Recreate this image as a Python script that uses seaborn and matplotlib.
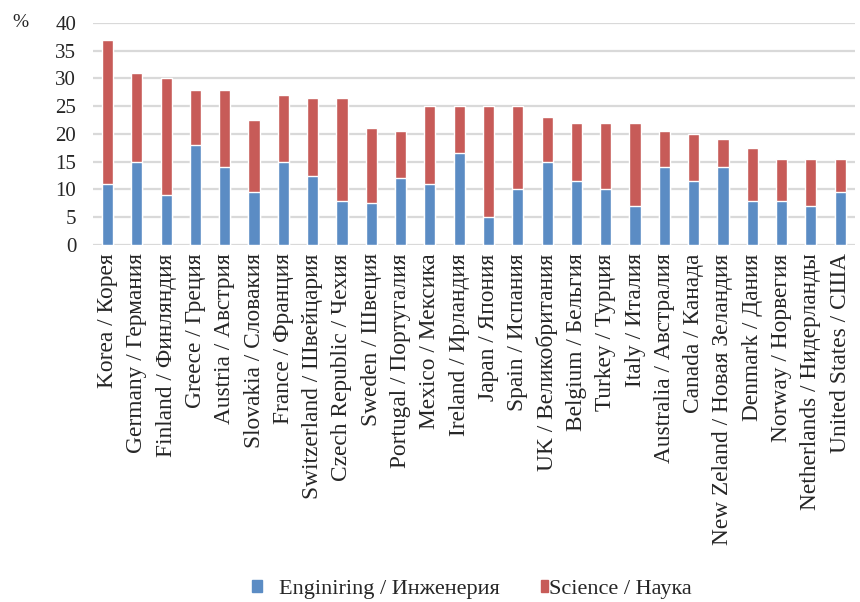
import pandas as pd
import matplotlib.pyplot as plt
import seaborn as sns
from matplotlib.patches import Patch

# Shares of graduates by field, %
countries = ['Korea / Корея', 'Germany / Германия', 'Finland / Финляндия', 'Greece / Греция',
             'Austria / Австрия', 'Slovakia / Словакия', 'France / Франция',
             'Switzerland / Швейцария', 'Czech Republic / Чехия', 'Sweden / Швеция',
             'Portugal / Португалия', 'Mexico / Мексика', 'Ireland / Ирландия', 'Japan / Япония',
             'Spain / Испания', 'UK / Великобритания', 'Belgium / Бельгия', 'Turkey / Турция',
             'Italy / Италия', 'Australia / Австралия', 'Canada / Канада',
             'New Zeland / Новая Зеландия', 'Denmark / Дания', 'Norway / Норвегия',
             'Netherlands / Нидерланды', 'United States / США']
engineering = [11, 15, 9, 18, 14, 9.5, 15, 12.5, 8, 7.5, 12, 11, 16.5, 5, 10, 15, 11.5, 10,
               7, 14, 11.5, 14, 8, 8, 7, 9.5]
science = [26, 16, 21, 10, 14, 13, 12, 14, 18.5, 13.5, 8.5, 14, 8.5, 20, 15, 8, 10.5, 12,
           15, 6.5, 8.5, 5, 9.5, 7.5, 8.5, 6]

df = pd.DataFrame({'country': countries, 'eng': engineering, 'sci': science})
df['total'] = df['eng'] + df['sci']

blue = '#5B8CC4'
red = '#C75B58'

sns.set_style('white')
plt.rcParams['font.family'] = ['Liberation Serif', 'DejaVu Serif']

fig = plt.figure(figsize=(8.6, 6.02), dpi=100)
ax = fig.add_axes([0.108, 0.593, 0.886, 0.369])

# stacked: total in red underneath, engineering in blue on top
sns.barplot(data=df, x='country', y='total', color=red, width=0.38, saturation=1, ax=ax)
sns.barplot(data=df, x='country', y='eng', color=blue, width=0.38, saturation=1, ax=ax)

ax.set_ylim(0, 40)
ax.set_yticks(range(0, 41, 5))
ax.set_xlim(-0.5, len(df) - 0.5)
ax.yaxis.grid(True, color='#D9D9D9', linewidth=1.6)
ax.set_axisbelow(True)
for s in ax.spines.values():
    s.set_visible(False)
ax.set_xlabel('')
ax.set_ylabel('')
ax.tick_params(axis='y', labelsize=15, length=0, pad=12)
ax.tick_params(axis='x', labelsize=16.8, length=0, pad=6)
plt.setp(ax.get_xticklabels(), rotation=90)

fig.text(0.014, 0.962, '%', fontsize=14, va='center')

leg1 = fig.legend(handles=[Patch(color=blue, label='Enginiring / Инженерия')],
                  loc='center left', bbox_to_anchor=(0.293, 0.021), frameon=False,
                  fontsize=16, handlelength=0.45, handleheight=0.45, handletextpad=0.75,
                  borderaxespad=0, borderpad=0)
leg2 = fig.legend(handles=[Patch(color=red, label='Science / Наука')],
                  loc='center left', bbox_to_anchor=(0.629, 0.021), frameon=False,
                  fontsize=16, handlelength=0.3, handleheight=0.45, handletextpad=0.05,
                  borderaxespad=0, borderpad=0)

fig.savefig('out.png', dpi=100)
plt.close()
